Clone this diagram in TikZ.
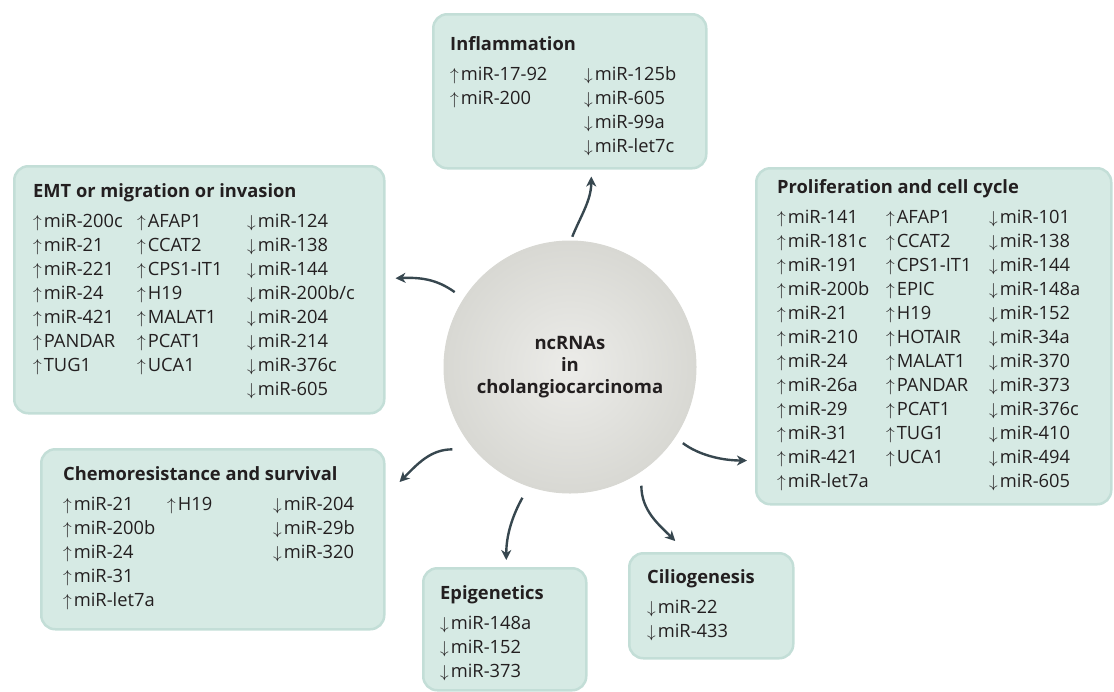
\documentclass[tikz,border=0pt]{standalone}
\usepackage{fontspec}
\setmainfont{Open Sans}
\usetikzlibrary{arrows.meta,calc}

\definecolor{boxfill}{HTML}{D6EAE4}
\definecolor{boxedge}{HTML}{C3DED7}
\definecolor{ink}{HTML}{231F20}
\definecolor{linkcol}{HTML}{37474F}
\definecolor{cellin}{HTML}{ECECE9}
\definecolor{cellout}{HTML}{D8D8D3}

\newcommand{\incr}{\(\uparrow\)\kern2pt}
\newcommand{\decr}{\(\downarrow\)\kern2pt}
\newcommand{\boxtitle}[2]{\multicolumn{#1}{@{}l@{}}{\bfseries #2}\\[6pt]}

\begin{document}
\begin{tikzpicture}[x=1pt, y=-1pt]

          % Definitions
          \tikzstyle{box} = [rectangle, rounded corners=14pt, anchor=north west, inner sep=0pt, fill=boxfill, draw=boxedge, line width=2.5pt]
          \tikzstyle{list} = [anchor=base west, inner sep=0pt, text=ink, font=\fontsize{18.3}{24}\selectfont]
          \tikzstyle{cell} = [circle, minimum size=252pt, inner sep=0pt, draw=cellout, line width=1pt, inner color=cellin, outer color=cellout, text=ink, align=center, font=\fontsize{18.5}{22}\selectfont\bfseries]
          \tikzstyle{link} = [linkcol, line width=2.4pt, -{Stealth[length=10pt, width=10pt, inset=3pt]}]

          \useasboundingbox (0,0) rectangle (1114,691);

          % boxes
          \node (infl) [box, minimum width=273pt, minimum height=154pt] at (432,13) {};
          \node (emt) [box, minimum width=370pt, minimum height=247pt] at (13,165) {};
          \node (prolif) [box, minimum width=355pt, minimum height=336pt] at (755,167) {};
          \node (chemo) [box, minimum width=343pt, minimum height=180pt] at (40,448) {};
          \node (epig) [box, minimum width=163pt, minimum height=122pt] at (422,567) {};
          \node (cilio) [box, minimum width=164pt, minimum height=105pt] at (628,552) {};

          \node (cell) [cell] at (570,367) {ncRNAs\\in\\cholangiocarcinoma};

          % lists
          \node (infltext) [list] at (450,50) {\begin{tabular}[t]{@{}p{134pt}@{}l@{}}
            \boxtitle{2}{Inflammation}
            \incr miR-17-92 & \decr miR-125b\\
            \incr miR-200 & \decr miR-605\\
            & \decr miR-99a\\
            & \decr miR-let7c
          \end{tabular}};
          \node (emttext) [list] at (33,197) {\begin{tabular}[t]{@{}p{104pt}@{}p{110pt}@{}l@{}}
            \boxtitle{3}{EMT or migration or invasion}
            \incr miR-200c & \incr AFAP1 & \decr miR-124\\
            \incr miR-21 & \incr CCAT2 & \decr miR-138\\
            \incr miR-221 & \incr CPS1-IT1 & \decr miR-144\\
            \incr miR-24 & \incr H19 & \decr miR-200b/c\\
            \incr miR-421 & \incr MALAT1 & \decr miR-204\\
            \incr PANDAR & \incr PCAT1 & \decr miR-214\\
            \incr TUG1 & \incr UCA1 & \decr miR-376c\\
            & & \decr miR-605
          \end{tabular}};
          \node (proliftext) [list] at (777,193) {\begin{tabular}[t]{@{}p{109pt}@{}p{103pt}@{}l@{}}
            \boxtitle{3}{Proliferation and cell cycle}
            \incr miR-141 & \incr AFAP1 & \decr miR-101\\
            \incr miR-181c & \incr CCAT2 & \decr miR-138\\
            \incr miR-191 & \incr CPS1-IT1 & \decr miR-144\\
            \incr miR-200b & \incr EPIC & \decr miR-148a\\
            \incr miR-21 & \incr H19 & \decr miR-152\\
            \incr miR-210 & \incr HOTAIR & \decr miR-34a\\
            \incr miR-24 & \incr MALAT1 & \decr miR-370\\
            \incr miR-26a & \incr PANDAR & \decr miR-373\\
            \incr miR-29 & \incr PCAT1 & \decr miR-376c\\
            \incr miR-31 & \incr TUG1 & \decr miR-410\\
            \incr miR-421 & \incr UCA1 & \decr miR-494\\
            \incr miR-let7a & & \decr miR-605
          \end{tabular}};
          \node (chemotext) [list] at (63,480) {\begin{tabular}[t]{@{}p{104pt}@{}p{106pt}@{}l@{}}
            \boxtitle{3}{Chemoresistance and survival}
            \incr miR-21 & \incr H19 & \decr miR-204\\
            \incr miR-200b & & \decr miR-29b\\
            \incr miR-24 & & \decr miR-320\\
            \incr miR-31 & & \\
            \incr miR-let7a & &
          \end{tabular}};
          \node (epigtext) [list] at (440,599) {\begin{tabular}[t]{@{}l@{}}
            \boxtitle{1}{Epigenetics}
            \decr miR-148a\\
            \decr miR-152\\
            \decr miR-373
          \end{tabular}};
          \node (ciliotext) [list] at (647,583) {\begin{tabular}[t]{@{}l@{}}
            \boxtitle{1}{Ciliogenesis}
            \decr miR-22\\
            \decr miR-433
          \end{tabular}};

          % arrows out of the circle
          \draw [link] ($(cell.center)!1.03!(cell.89)$) .. controls +(8,-20) and +(0,24) .. ([shift={(21.5,7)}]infl.south);
          \draw [link] ($(cell.center)!1.087!(cell.147)$) .. controls +(-18,-13) and +(25,-1) .. ([shift={(10,-11.5)}]emt.east);
          \draw [link] ($(cell.center)!1.135!(cell.215)$) .. controls +(-22,0) and +(18,-18) .. ([shift={(14,34)}]chemo.north east);
          \draw [link] ($(cell.center)!1.076!(cell.326)$) .. controls +(16,12) and +(-25,0) .. ([shift={(-8,-45)}]prolif.south west);
          \draw [link] ($(cell.center)!1.1!(cell.250)$) .. controls +(-10,18) and +(0,-25) .. ([shift={(1.5,-7)}]epig.north);
          \draw [link] ($(cell.center)!1.095!(cell.301)$) .. controls +(0,25) and +(-16,-16) .. ([shift={(-36,-11)}]cilio.north);

        \end{tikzpicture}
\end{document}
